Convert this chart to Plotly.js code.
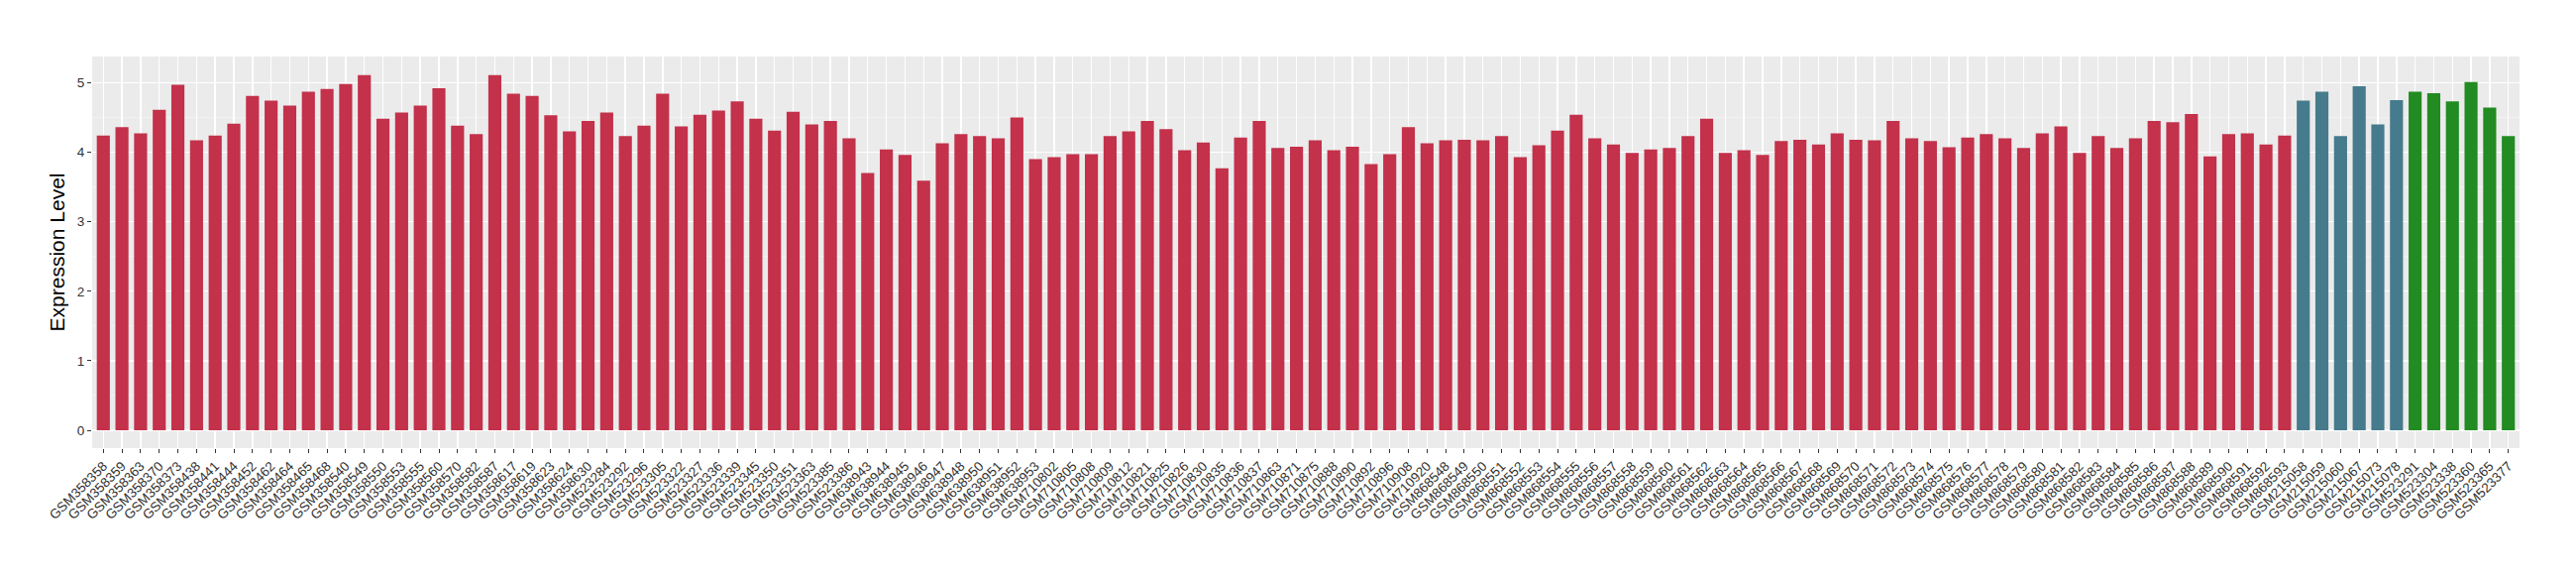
<!DOCTYPE html>
<html>
<head>
<meta charset="utf-8">
<script src="https://cdn.plot.ly/plotly-3.0.1.min.js"></script>
<style>html,body{margin:0;padding:0;background:#fff;}#chart{width:2600px;height:580px;}</style>
</head>
<body>
<div id="chart"></div>
<script>
const groupA = ["GSM358358","GSM358359","GSM358363","GSM358370","GSM358373","GSM358438","GSM358441","GSM358444","GSM358452","GSM358462","GSM358464","GSM358465","GSM358468","GSM358540","GSM358549","GSM358550","GSM358553","GSM358555","GSM358560","GSM358570","GSM358582","GSM358587","GSM358617","GSM358619","GSM358623","GSM358624","GSM358630",
"GSM523284","GSM523292","GSM523296","GSM523305","GSM523322","GSM523327","GSM523336","GSM523339","GSM523345","GSM523350","GSM523351","GSM523363","GSM523385","GSM523386",
"GSM638943","GSM638944","GSM638945","GSM638946","GSM638947","GSM638948","GSM638950","GSM638951","GSM638952","GSM638953",
"GSM710802","GSM710805","GSM710808","GSM710809","GSM710812","GSM710821","GSM710825","GSM710826","GSM710830","GSM710835","GSM710836","GSM710837","GSM710863","GSM710871","GSM710875","GSM710888","GSM710890","GSM710892","GSM710896","GSM710908","GSM710920",
"GSM868548","GSM868549","GSM868550","GSM868551","GSM868552","GSM868553","GSM868554","GSM868555","GSM868556","GSM868557","GSM868558","GSM868559","GSM868560","GSM868561","GSM868562","GSM868563","GSM868564","GSM868565","GSM868566","GSM868567","GSM868568","GSM868569","GSM868570","GSM868571","GSM868572","GSM868573","GSM868574","GSM868575","GSM868576","GSM868577","GSM868578","GSM868579","GSM868580","GSM868581","GSM868582","GSM868583","GSM868584","GSM868585","GSM868586","GSM868587","GSM868588","GSM868589","GSM868590","GSM868591","GSM868592","GSM868593"];
const valuesA = [4.24,4.36,4.27,4.61,4.97,4.17,4.24,4.41,4.81,4.74,4.67,4.87,4.91,4.98,5.11,4.48,4.57,4.67,4.92,4.38,4.26,5.11,4.84,4.81,4.53,4.30,4.45,
4.57,4.23,4.38,4.84,4.37,4.54,4.60,4.73,4.48,4.31,4.58,4.40,4.45,4.20,
3.70,4.04,3.96,3.59,4.13,4.26,4.23,4.20,4.50,3.90,
3.93,3.97,3.97,4.23,4.30,4.45,4.33,4.03,4.14,3.77,4.21,4.45,4.06,4.08,4.17,4.03,4.08,3.83,3.97,4.36,4.13,
4.17,4.18,4.17,4.23,3.93,4.10,4.31,4.54,4.20,4.11,3.99,4.04,4.06,4.23,4.48,3.99,4.03,3.96,4.16,4.18,4.11,4.27,4.18,4.17,4.45,4.20,4.16,4.07,4.21,4.26,4.20,4.06,4.27,4.37,3.99,4.23,4.06,4.20,4.45,4.43,4.55,3.94,4.26,4.27,4.11,4.24];
const groupB = ["GSM215058","GSM215059","GSM215060","GSM215067","GSM215073","GSM215078"];
const valuesB = [4.74,4.87,4.23,4.95,4.40,4.75];
const groupC = ["GSM523291","GSM523304","GSM523338","GSM523360","GSM523365","GSM523377"];
const valuesC = [4.87,4.85,4.73,5.01,4.64,4.23];
const yTicks = [0,1,2,3,4,5];

const allCats = groupA.concat(groupB, groupC);
const font = "Liberation Sans, Arial, Helvetica, sans-serif";
function tr(x, y, color){
  return {type:'bar', x:x, y:y, marker:{color:color, line:{width:0}}, showlegend:false, hoverinfo:'x+y'};
}
const data = [tr(groupA, valuesA, '#C3314A'), tr(groupB, valuesB, '#457B8C'), tr(groupC, valuesC, '#228B22')];
const layout = {
  width:2600, height:580,
  margin:{l:93, r:57, t:57, b:128},
  paper_bgcolor:'#ffffff', plot_bgcolor:'#EBEBEB',
  barmode:'overlay', bargap:0.3,
  font:{family:font, color:'#333333'},
  xaxis:{type:'category', categoryorder:'array', categoryarray:allCats,
    range:[-0.6, allCats.length - 0.4],
    tickangle:-45, tickfont:{size:13.5, color:'#333333', family:font},
    showgrid:true, gridcolor:'#ffffff', gridwidth:1.4,
    ticks:'outside', ticklen:4, tickcolor:'#333333', tickwidth:1,
    zeroline:false, showline:false, fixedrange:true},
  yaxis:{range:[-0.256, 5.376], tickvals:yTicks, ticktext:yTicks.map(String),
    tickfont:{size:13.5, color:'#333333', family:font},
    showgrid:true, gridcolor:'#ffffff', gridwidth:1.4,
    minor:{dtick:0.5, tick0:0, showgrid:true, gridcolor:'#F5F5F5', gridwidth:0.7, ticks:''},
    ticks:'outside', ticklen:4, tickcolor:'#333333', tickwidth:1,
    zeroline:false, showline:false,
    title:{text:'Expression Level', font:{size:21, color:'#000000', family:font}, standoff:6}}
};
Plotly.newPlot('chart', data, layout, {staticPlot:true, displayModeBar:false});
</script>
</body>
</html>
